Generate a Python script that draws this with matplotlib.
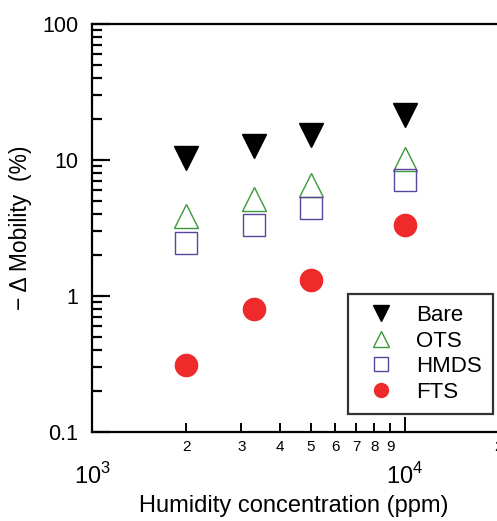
import matplotlib
matplotlib.use('Agg')
import matplotlib.pyplot as plt
from matplotlib.ticker import FixedLocator, FixedFormatter

plt.rcParams['font.family'] = ['Liberation Sans', 'DejaVu Sans']
plt.rcParams['mathtext.fontset'] = 'custom'
plt.rcParams['mathtext.rm'] = 'Liberation Sans'

# Data
humidity = [2000, 3300, 5000, 10000]
bare = [10.3, 12.7, 15.3, 21.4]
ots = [3.9, 5.2, 6.5, 10.2]
hmds = [2.45, 3.33, 4.43, 7.1]
fts = [0.31, 0.80, 1.31, 3.33]

major_x = [1e3, 1e4]
major_x_labels = ['$10^{3}$', '$10^{4}$']
minor_x = [2e3, 3e3, 4e3, 5e3, 6e3, 7e3, 8e3, 9e3, 2e4]
minor_x_labels = ['2', '3', '4', '5', '6', '7', '8', '9', '2']
y_ticks = [0.1, 1, 10, 100]
y_labels = ['0.1', '1', '10', '100']

fig = plt.figure(figsize=(4.97, 5.21), dpi=100)
ax = fig.add_axes([0.1851, 0.1708, 0.9296, 0.7831])

ax.plot(humidity, bare, 'v', ms=17, color='black', label='Bare')
ax.plot(humidity, ots, '^', ms=17, mfc='none', mec='#3b9a3b', mew=1.0, label='OTS')
ax.plot(humidity, hmds, 's', ms=16, mfc='none', mec='#5b44a0', mew=1.0, label='HMDS')
ax.plot(humidity, fts, 'o', ms=17, color='#ee2a2a', mec='none', label='FTS')

ax.set_xscale('log')
ax.set_yscale('log')
ax.set_xlim(1000, 30000)
ax.set_ylim(0.1, 100)

ax.xaxis.set_major_locator(FixedLocator(major_x))
ax.xaxis.set_major_formatter(FixedFormatter(major_x_labels))
ax.xaxis.set_minor_locator(FixedLocator(minor_x))
ax.xaxis.set_minor_formatter(FixedFormatter(minor_x_labels))
ax.yaxis.set_major_locator(FixedLocator(y_ticks))
ax.yaxis.set_major_formatter(FixedFormatter(y_labels))

for s in ['left', 'bottom', 'top']:
    ax.spines[s].set_linewidth(1.6)
ax.spines['right'].set_visible(False)

ax.tick_params(axis='x', which='major', direction='in', length=11, width=1.4,
               labelsize=17, pad=22, top=False)
ax.tick_params(axis='x', which='minor', direction='in', length=6.5, width=1.4,
               labelsize=11, pad=6, top=False)
ax.tick_params(axis='y', which='major', direction='in', length=13, width=1.6,
               labelsize=15.5, pad=10, right=False)
ax.tick_params(axis='y', which='minor', direction='in', length=7, width=1.6,
               labelleft=False, right=False)

ax.set_ylabel('\u2212 \u0394 Mobility  (%)', fontsize=16.5, labelpad=7)
ax.set_xlabel('Humidity concentration (ppm)', fontsize=17)
ax.xaxis.set_label_coords(0.437, -0.155)

leg = ax.legend(loc='upper left', bbox_to_anchor=(0.554, 0.338), borderaxespad=0,
                fontsize=16, markerscale=0.65, frameon=True, fancybox=False,
                handlelength=2.0, handletextpad=0.55, labelspacing=0.2,
                borderpad=0.5)
leg.get_frame().set_edgecolor('black')
leg.get_frame().set_linewidth(1.6)

fig.savefig('out.png', dpi=100)
